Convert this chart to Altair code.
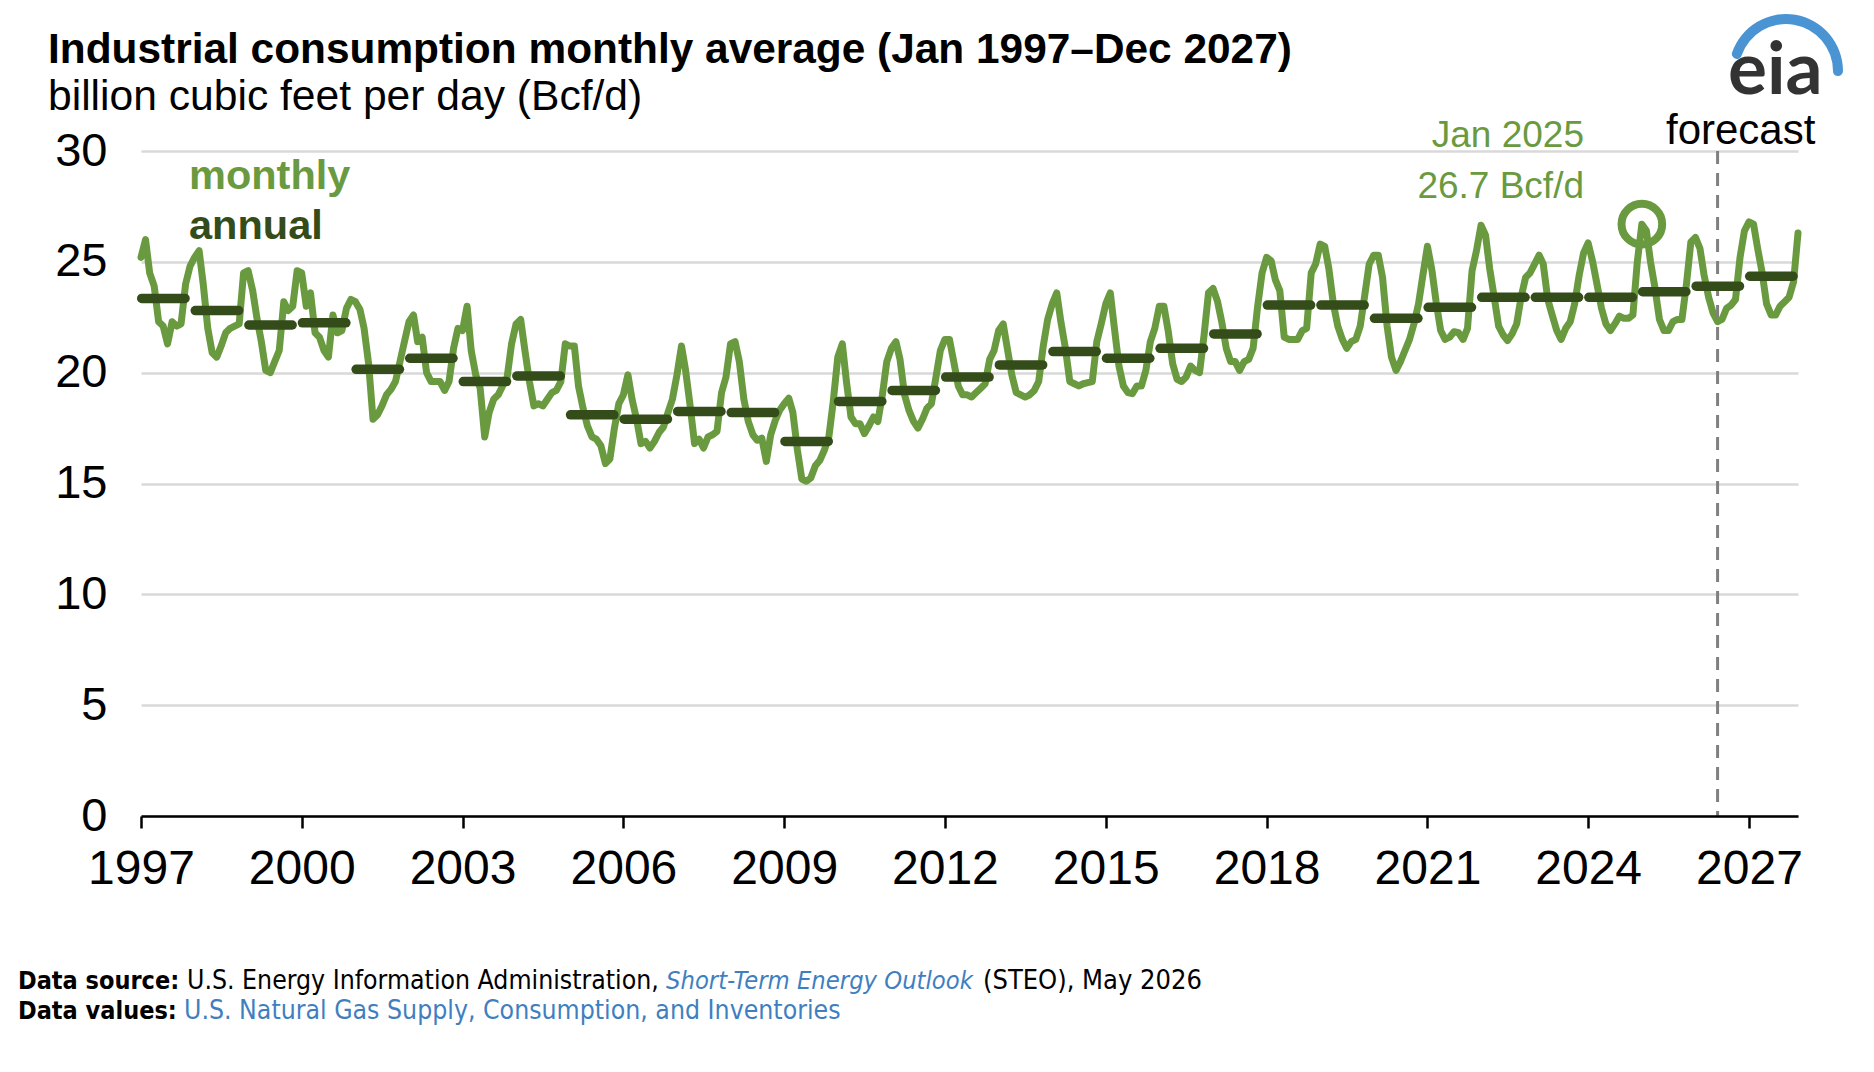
import altair as alt
import pandas as pd

# ---------------- data ----------------
years = list(range(1997, 2028))

m1997 = [25.2, 26.0, 24.5, 23.9, 22.3, 22.1, 21.3, 22.3, 22.1, 22.2, 24.0, 24.8]
m1998 = [25.2, 25.5, 24.0, 22.0, 20.9, 20.7, 21.2, 21.8, 22.0, 22.1, 22.2, 24.5]
m1999 = [24.6, 23.7, 22.5, 21.4, 20.1, 20.0, 20.5, 21.0, 23.2, 22.8, 23.0, 24.6]
m2000 = [24.5, 23.0, 23.6, 21.8, 21.6, 21.0, 20.7, 22.6, 21.8, 21.9, 22.9, 23.3]
m2001 = [23.2, 22.85, 22.0, 20.4, 17.9, 18.1, 18.5, 19.0, 19.25, 19.6, 20.5, 21.4]
m2002 = [22.3, 22.6, 21.4, 21.6, 20.0, 19.6, 19.6, 19.6, 19.2, 19.6, 21.1, 22.0]
m2003 = [21.9, 23.0, 21.0, 19.9, 19.3, 17.1, 18.2, 18.8, 19.0, 19.4, 19.8, 21.3]
m2004 = [22.2, 22.4, 21.0, 19.6, 18.5, 18.6, 18.5, 18.8, 19.1, 19.2, 19.6, 21.3]
m2005 = [21.2, 21.2, 19.4, 18.4, 17.6, 17.1, 17.0, 16.7, 15.9, 16.1, 17.5, 18.6]
m2006 = [19.0, 19.9, 18.8, 17.9, 16.8, 16.9, 16.6, 16.9, 17.3, 17.55, 18.2, 18.8]
m2007 = [19.9, 21.2, 20.1, 18.5, 16.8, 17.0, 16.6, 17.1, 17.2, 17.35, 19.1, 19.8]
m2008 = [21.3, 21.4, 20.5, 18.8, 17.8, 17.2, 16.95, 17.05, 16.0, 17.2, 17.85, 18.3]
m2009 = [18.6, 18.85, 18.2, 16.5, 15.2, 15.1, 15.25, 15.8, 16.05, 16.5, 17.1, 18.7]
m2010 = [20.7, 21.3, 19.6, 18.0, 17.7, 17.7, 17.25, 17.6, 18.0, 17.8, 19.0, 20.5]
m2011 = [21.1, 21.4, 20.6, 19.0, 18.3, 17.8, 17.5, 17.9, 18.4, 18.6, 19.8, 21.0]
m2012 = [21.5, 21.5, 20.5, 19.4, 19.0, 19.0, 18.9, 19.1, 19.3, 19.5, 20.6, 21.0]
m2013 = [21.9, 22.2, 21.1, 19.9, 19.1, 19.0, 18.9, 19.0, 19.2, 19.6, 21.2, 22.4]
m2014 = [23.1, 23.6, 22.3, 21.1, 19.6, 19.5, 19.4, 19.5, 19.55, 19.6, 21.4, 22.2]
m2015 = [23.1, 23.6, 22.0, 20.3, 19.4, 19.1, 19.05, 19.4, 19.4, 20.1, 21.4, 22.0]
m2016 = [23.0, 23.0, 21.9, 20.4, 19.7, 19.6, 19.8, 20.3, 20.1, 20.0, 21.7, 23.6]
m2017 = [23.8, 23.2, 22.3, 21.1, 20.5, 20.5, 20.1, 20.5, 20.6, 21.1, 23.0, 24.5]
m2018 = [25.2, 25.05, 24.2, 23.7, 21.6, 21.5, 21.5, 21.5, 21.9, 22.0, 24.5, 24.9]
m2019 = [25.8, 25.7, 24.7, 23.1, 22.1, 21.5, 21.1, 21.4, 21.5, 22.1, 23.5, 24.9]
m2020 = [25.3, 25.3, 24.3, 22.1, 20.7, 20.1, 20.5, 21.0, 21.5, 22.2, 23.1, 24.4]
m2021 = [25.7, 24.6, 23.2, 21.9, 21.5, 21.6, 21.85, 21.8, 21.5, 22.0, 24.6, 25.5]
m2022 = [26.65, 26.2, 24.7, 23.4, 22.1, 21.7, 21.45, 21.75, 22.2, 23.4, 24.3, 24.5]
m2023 = [24.9, 25.3, 24.9, 23.3, 22.6, 21.9, 21.5, 22.0, 22.3, 23.1, 24.4, 25.4]
m2024 = [25.85, 25.0, 24.0, 22.9, 22.2, 21.9, 22.2, 22.55, 22.45, 22.45, 22.6, 25.0]
m2025 = [26.7, 26.4, 25.0, 23.8, 22.4, 21.9, 21.9, 22.3, 22.4, 22.4, 24.0, 25.9]
m2026 = [26.1, 25.6, 24.4, 23.4, 22.7, 22.3, 22.4, 22.9, 23.05, 23.3, 25.2, 26.4]
m2027 = [26.8, 26.7, 25.6, 24.5, 23.1, 22.6, 22.6, 23.0, 23.2, 23.4, 24.1, 26.3]

annual_values = [23.35, 22.8, 22.15, 22.25, 20.15, 20.65, 19.6, 19.85, 18.1, 17.9,
                 18.25, 18.2, 16.9, 18.7, 19.2, 19.8, 20.35, 20.95, 20.65, 21.1,
                 21.75, 23.05, 23.05, 22.45, 22.95, 23.4, 23.4, 23.4, 23.65, 23.9, 24.35]

tick_years = [1997, 2000, 2003, 2006, 2009, 2012, 2015, 2018, 2021, 2024, 2027]
y_ticks = [0, 5, 10, 15, 20, 25, 30]
forecast_start = (2026, 6)
highlight_date = (2025, 1)
highlight_value = 26.7

# ---------------- tables ----------------
monthly_lists = [m1997, m1998, m1999, m2000, m2001, m2002, m2003, m2004, m2005, m2006,
                 m2007, m2008, m2009, m2010, m2011, m2012, m2013, m2014, m2015, m2016,
                 m2017, m2018, m2019, m2020, m2021, m2022, m2023, m2024, m2025, m2026, m2027]
rows = []
for yr, vals in zip(years, monthly_lists):
    for mo, v in enumerate(vals, start=1):
        rows.append({"date": pd.Timestamp(year=yr, month=mo, day=1), "value": v})
monthly = pd.DataFrame(rows)

annual = pd.DataFrame({
    "start": [pd.Timestamp(year=y, month=1, day=6) for y in years],
    "end": [pd.Timestamp(year=y, month=10, day=28) for y in years],
    "value": annual_values,
})

forecast_df = pd.DataFrame({"date": [pd.Timestamp(year=forecast_start[0], month=forecast_start[1], day=1)],
                            "top": [30], "bottom": [0]})
hl_df = pd.DataFrame({"date": [pd.Timestamp(year=highlight_date[0], month=highlight_date[1], day=1)],
                      "value": [highlight_value]})

GREEN = "#6a9a3f"
DARK = "#344c1a"
FONT = "Liberation Sans, Arial, Helvetica, sans-serif"
NARROW = "Liberation Sans Narrow, Arial Narrow, DejaVu Sans Condensed, sans-serif"
BLUE = "#3f7fbf"

W, H = 1657, 665

x_scale = alt.Scale(domain=[alt.DateTime(year=1997, month=1, date=1),
                            alt.DateTime(year=2027, month=12, date=1)])
y_scale = alt.Scale(domain=[0, 30], nice=False)

x_axis = alt.Axis(values=[alt.DateTime(year=y, month=1, date=1) for y in tick_years],
                  format="%Y", labelFont=FONT, labelFontSize=48, labelColor="black",
                  labelPadding=17, labelFlush=False, labelOverlap=False,
                  tickColor="black", tickSize=12, tickWidth=2.5,
                  domainColor="black", domainWidth=2.5, grid=False, title=None, zindex=1)
y_axis = alt.Axis(values=y_ticks, labelFont=FONT, labelFontSize=47, labelColor="black",
                  labelPadding=34, domain=False, ticks=False, gridColor="#d9d9d9",
                  gridWidth=2.5, title=None)

base_line = alt.Chart(monthly).mark_line(
    color=GREEN, strokeWidth=7, strokeJoin="round", strokeCap="round"
).encode(
    x=alt.X("date:T", scale=x_scale, axis=x_axis),
    y=alt.Y("value:Q", scale=y_scale, axis=y_axis),
)

forecast_rule = alt.Chart(forecast_df).mark_rule(
    color="#808080", strokeWidth=3, strokeDash=[13, 9]
).encode(x="date:T", y="top:Q", y2="bottom:Q")

annual_rules = alt.Chart(annual).mark_rule(
    color=DARK, strokeWidth=9.5, strokeCap="round"
).encode(x="start:T", x2="end:T", y="value:Q")

hl_point = alt.Chart(hl_df).mark_point(
    shape="circle", size=1650, filled=False, strokeWidth=8, color=GREEN, opacity=1
).encode(x="date:T", y="value:Q")


def txt(text, x, y, size, color="black", weight="normal", align="left", font=FONT, style="normal"):
    return alt.Chart(pd.DataFrame({"t": [text]})).mark_text(
        align=align, baseline="alphabetic", font=font, fontSize=size, fontWeight=weight,
        fontStyle=style, color=color
    ).encode(x=alt.value(x), y=alt.value(y), text="t:N")


texts = [
    txt("Industrial consumption monthly average (Jan 1997\u2013Dec 2027)", -93, -88, 42.4, weight="bold"),
    txt("billion cubic feet per day (Bcf/d)", -93, -41, 42.6),
    txt("monthly", 48, 38, 41.5, color=GREEN, weight="bold"),
    txt("annual", 48, 88, 41.5, color=DARK, weight="bold"),
    txt("Jan 2025", 1443, -4, 37, color=GREEN, align="right"),
    txt("26.7 Bcf/d", 1443, 47, 37, color=GREEN, align="right"),
    txt("forecast", 1525, -7, 42),
    txt("eia", 1587, -57, 73, color="#333333", weight="bold", font="Lato, Liberation Sans, sans-serif"),
    txt("Data source:", -123, 838, 25, weight="bold", font=NARROW),
    txt("U.S. Energy Information Administration,", 46, 838, 26.4, font=NARROW),
    txt("Short-Term Energy Outlook", 525, 838, 25.3, color=BLUE, font=NARROW, style="italic"),
    txt("(STEO), May 2026", 842, 838, 27, font=NARROW),
    txt("Data values:", -123, 868, 25, weight="bold", font=NARROW),
    txt("U.S. Natural Gas Supply, Consumption, and Inventories", 43, 868, 26.4, color=BLUE, font=NARROW),
]

swoosh = alt.Chart(pd.DataFrame({"t": [0]})).mark_arc(
    color="#4a94d4", radius=47, radius2=57, theta=4.95, theta2=7.95, cornerRadius=5
).encode(x=alt.value(1645), y=alt.value(-80))

chart = alt.layer(base_line, forecast_rule, annual_rules, hl_point, swoosh, *texts).properties(
    width=W, height=H,
    autosize=alt.AutoSizeParams(type="none"),
    padding={"left": 133, "top": 143, "right": 68, "bottom": 215},
    background="white",
).configure_view(strokeWidth=0)

chart.save("out.html", embed_options={"renderer": "svg", "actions": False})
